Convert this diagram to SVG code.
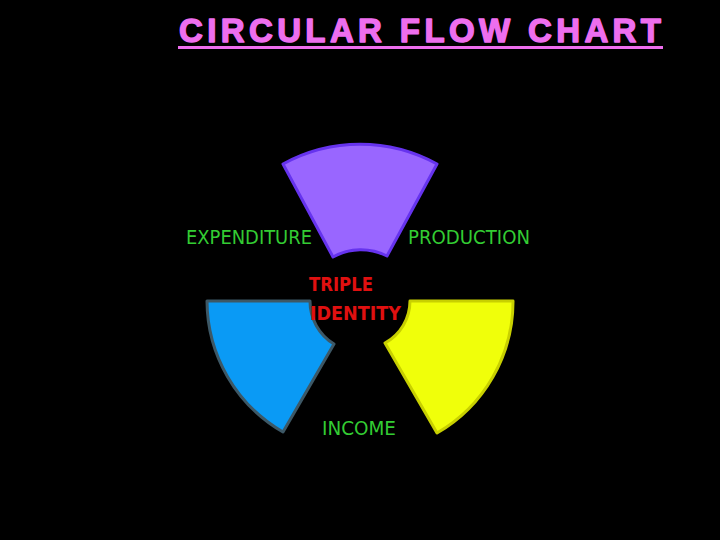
<svg xmlns="http://www.w3.org/2000/svg" width="720" height="540" viewBox="0 0 720 540">
<style>
.lbl{font-family:"DejaVu Sans","Liberation Sans",sans-serif;font-size:20px;fill:#33cc33}
.red{font-family:"DejaVu Sans","Liberation Sans",sans-serif;font-size:20px;fill:#e01010;font-weight:bold}
.sec{stroke-width:3;stroke-linejoin:round}
.title{font-family:"Liberation Sans",Arial,sans-serif;font-weight:bold;font-size:33px;fill:#ee6eee;stroke:#ee6eee;stroke-width:1.4;stroke-linejoin:round;paint-order:stroke}
</style>
<rect width="720" height="540" fill="#000"/>
<g id="title">
<text class="title" x="179" y="41.5" textLength="482" lengthAdjust="spacing">CIRCULAR FLOW CHART</text>
<rect x="178" y="46" width="485" height="3" fill="#ee6eee"/>
</g>
<g id="production-sector">
<path class="sec" d="M283,164 A160,160 0 0 1 437,164 L387,256 A57,57 0 0 0 333,257 Z" fill="#9966ff" stroke="#6633ee"/>
</g>
<g id="expenditure-sector">
<path class="sec" d="M207,301 L310,301 A50,50 0 0 0 334,344 L283,432 A152,152 0 0 1 207,301 Z" fill="#0a9af5" stroke="#3d5866"/>
</g>
<g id="income-sector">
<path class="sec" d="M410,301 L513,301 A152,152 0 0 1 437,433 L385,343 A48,48 0 0 0 410,301 Z" fill="#f0ff0a" stroke="#c8d000"/>
</g>
<g id="labels">
<text class="lbl" x="186" y="244" textLength="126" lengthAdjust="spacingAndGlyphs">EXPENDITURE</text>
<text class="lbl" x="408" y="244" textLength="122" lengthAdjust="spacingAndGlyphs">PRODUCTION</text>
<text class="lbl" x="322" y="435" textLength="74" lengthAdjust="spacingAndGlyphs">INCOME</text>
<text class="red" x="309" y="291" textLength="64" lengthAdjust="spacingAndGlyphs">TRIPLE</text>
<text class="red" x="310" y="320" textLength="91" lengthAdjust="spacingAndGlyphs">IDENTITY</text>
</g>
</svg>
